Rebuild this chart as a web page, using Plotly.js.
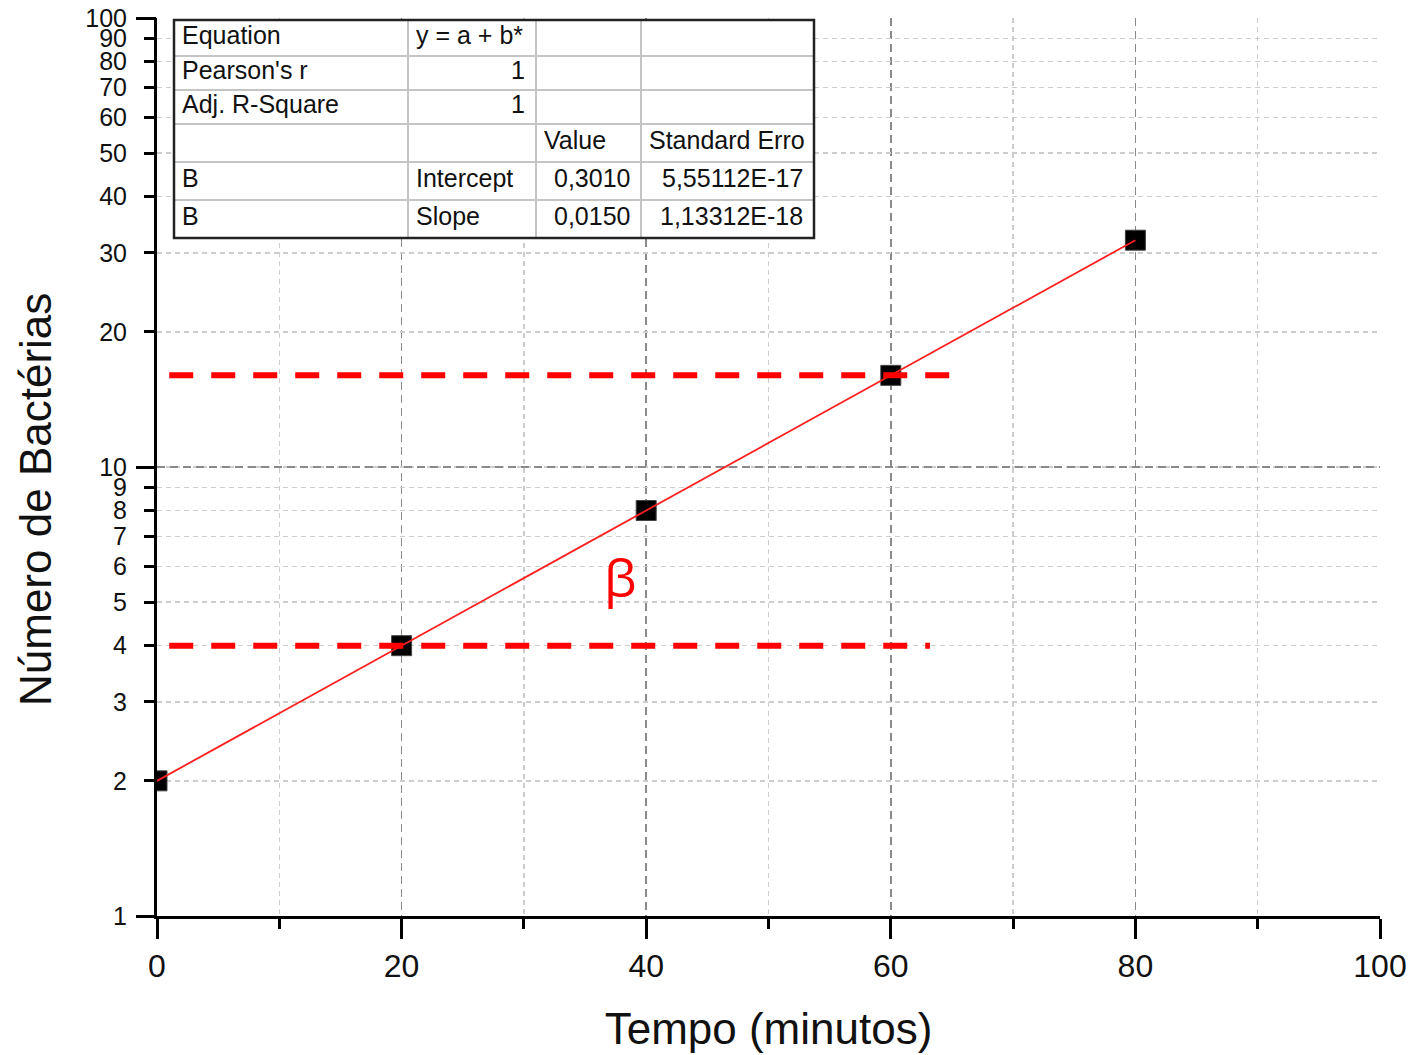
<!DOCTYPE html>
<html>
<head>
<meta charset="utf-8">
<script src="https://cdn.plot.ly/plotly-3.0.1.min.js"></script>
<style>
  html, body { margin: 0; padding: 0; background: #ffffff; }
  #chart { width: 1412px; height: 1055px; }
</style>
</head>
<body>
<div id="chart"></div>
<script>
// ---- data ----
var tempo = [0, 20, 40, 60, 80];
var bacterias = [2, 4, 8, 16, 32];

var fitX = [0, 80];
var fitY = [2, 32];

var refLine16X = [1, 64.8];
var refLine16Y = [16, 16];
var refLine4X = [1, 63.2];
var refLine4Y = [4, 4];

var yTickVals = [1, 2, 3, 4, 5, 6, 7, 8, 9, 10, 20, 30, 40, 50, 60, 70, 80, 90, 100];
var yTickText = ['1', '2', '3', '4', '5', '6', '7', '8', '9', '10', '20', '30', '40', '50', '60', '70', '80', '90', '100'];
var yMajorVals = [1, 10, 100];

var tableRows = [
  ['Equation', 'y = a + b*', '', ''],
  ["Pearson's r", '1', '', ''],
  ['Adj. R-Square', '1', '', ''],
  ['', '', 'Value', 'Standard Erro'],
  ['B', 'Intercept', '0,3010', '5,55112E-17'],
  ['B', 'Slope', '0,0150', '1,13312E-18']
];
var tableAlignRight = [
  [false, false, false, false],
  [false, true, false, false],
  [false, true, false, false],
  [false, false, false, false],
  [false, false, true, true],
  [false, false, true, true]
];

// ---- layout geometry (pixels) ----
var W = 1412, H = 1055;
var mL = 157, mR = 32, mT = 18, mB = 139;
var plotW = W - mL - mR, plotH = H - mT - mB;
function px(x) { return (x - mL) / plotW; }
function py(y) { return (H - mB - y) / plotH; }

var colEdges = [174, 408, 536, 641, 814];
var rowEdges = [20, 56, 90, 124, 162, 200, 238];

var shapes = [];
var annotations = [];

// table background
shapes.push({type: 'rect', xref: 'paper', yref: 'paper', layer: 'above',
  x0: px(colEdges[0]), x1: px(colEdges[colEdges.length - 1]),
  y0: py(rowEdges[0]), y1: py(rowEdges[rowEdges.length - 1]),
  fillcolor: '#ffffff', line: {width: 0}});
// inner lines
for (var i = 1; i < rowEdges.length - 1; i++) {
  shapes.push({type: 'line', xref: 'paper', yref: 'paper', layer: 'above',
    x0: px(colEdges[0]), x1: px(colEdges[colEdges.length - 1]),
    y0: py(rowEdges[i]), y1: py(rowEdges[i]),
    line: {color: '#c4c4c4', width: 2}});
}
for (var j = 1; j < colEdges.length - 1; j++) {
  shapes.push({type: 'line', xref: 'paper', yref: 'paper', layer: 'above',
    x0: px(colEdges[j]), x1: px(colEdges[j]),
    y0: py(rowEdges[0]), y1: py(rowEdges[rowEdges.length - 1]),
    line: {color: '#c4c4c4', width: 2}});
}
// outer border
shapes.push({type: 'rect', xref: 'paper', yref: 'paper', layer: 'above',
  x0: px(colEdges[0]), x1: px(colEdges[colEdges.length - 1]),
  y0: py(rowEdges[0]), y1: py(rowEdges[rowEdges.length - 1]),
  line: {color: '#222222', width: 2.5}});

// table text
for (var r = 0; r < tableRows.length; r++) {
  for (var c = 0; c < tableRows[r].length; c++) {
    var t = tableRows[r][c];
    if (!t) continue;
    var right = tableAlignRight[r][c];
    var cy = (rowEdges[r] + rowEdges[r + 1]) / 2 - 3;
    annotations.push({
      xref: 'paper', yref: 'paper', showarrow: false,
      x: right ? px(colEdges[c + 1] - 9) : px(colEdges[c] + 6),
      xanchor: right ? 'right' : 'left',
      y: py(cy), yanchor: 'middle',
      text: t,
      font: {family: 'Liberation Sans, Arial, sans-serif', size: 25, color: '#111111'}
    });
  }
}

// beta label
annotations.push({
  xref: 'x', yref: 'y', showarrow: false,
  x: 37.9, y: Math.log10(5.7), xanchor: 'center', yanchor: 'middle',
  text: 'β',
  font: {family: 'Open Sans, DejaVu Sans, sans-serif', size: 52, color: '#ff0000'}
});

// y axis title (placed as annotation to match offset)
annotations.push({
  xref: 'paper', yref: 'paper', showarrow: false,
  x: px(35), y: py(500), xanchor: 'center', yanchor: 'middle',
  textangle: -90,
  text: 'Número de Bactérias',
  font: {family: 'Liberation Sans, Arial, sans-serif', size: 44, color: '#111111'}
});

var traces = [
  {
    x: tempo, y: bacterias, type: 'scatter', mode: 'markers',
    marker: {symbol: 'square', size: 20, color: '#000000', line: {color: '#444444', width: 1}},
    name: 'B', showlegend: false, hoverinfo: 'x+y'
  },
  {
    x: fitX, y: fitY, type: 'scatter', mode: 'lines', yaxis: 'y2',
    line: {color: '#ff2020', width: 1.8},
    name: 'Linear Fit', showlegend: false
  },
  {
    x: refLine16X, y: refLine16Y, type: 'scatter', mode: 'lines', yaxis: 'y2',
    line: {color: '#ff0000', width: 6, dash: '24px,18px'},
    showlegend: false, hoverinfo: 'skip'
  },
  {
    x: refLine4X, y: refLine4Y, type: 'scatter', mode: 'lines', yaxis: 'y2',
    line: {color: '#ff0000', width: 6, dash: '24px,18px'},
    showlegend: false, hoverinfo: 'skip'
  }
];

var layout = {
  width: W, height: H,
  margin: {l: mL, r: mR, t: mT, b: mB, pad: 0},
  paper_bgcolor: '#ffffff', plot_bgcolor: '#ffffff',
  showlegend: false,
  font: {family: 'Liberation Sans, Arial, sans-serif', color: '#111111'},
  xaxis: {
    range: [0, 100], tick0: 0, dtick: 20,
    ticks: 'outside', ticklen: 20, tickwidth: 3, tickcolor: '#000000',
    showline: true, linewidth: 3, linecolor: '#000000',
    showgrid: true, gridcolor: '#8a8a8a', gridwidth: 1.5, griddash: '8px,5px',
    zeroline: false,
    tickfont: {size: 32, color: '#111111'},
    minor: {dtick: 10, ticks: 'outside', ticklen: 10, tickwidth: 3, tickcolor: '#000000',
      showgrid: true, gridcolor: '#cdcdcd', gridwidth: 1.5, griddash: '5px,4px'},
    title: {text: 'Tempo (minutos)', standoff: 30,
      font: {size: 44, color: '#111111'}}
  },
  yaxis: {
    type: 'log', range: [0, 2],
    tickmode: 'array', tickvals: yTickVals, ticktext: yTickText,
    ticks: 'outside', ticklen: 10, tickwidth: 3, tickcolor: '#000000',
    ticklabelstandoff: 12,
    showline: true, linewidth: 3, linecolor: '#000000',
    showgrid: true, gridcolor: '#cdcdcd', gridwidth: 1.5, griddash: '5px,4px',
    zeroline: false,
    tickfont: {size: 25, color: '#111111'}
  },
  yaxis2: {
    type: 'log', range: [0, 2], overlaying: 'y', side: 'left',
    tickmode: 'array', tickvals: yMajorVals,
    showticklabels: false,
    ticks: 'outside', ticklen: 20, tickwidth: 3, tickcolor: '#000000',
    showline: false,
    showgrid: true, gridcolor: '#8a8a8a', gridwidth: 1.5, griddash: '8px,5px',
    zeroline: false
  },
  shapes: shapes,
  annotations: annotations
};

Plotly.newPlot('chart', traces, layout, {displayModeBar: false, staticPlot: true});
</script>
</body>
</html>
